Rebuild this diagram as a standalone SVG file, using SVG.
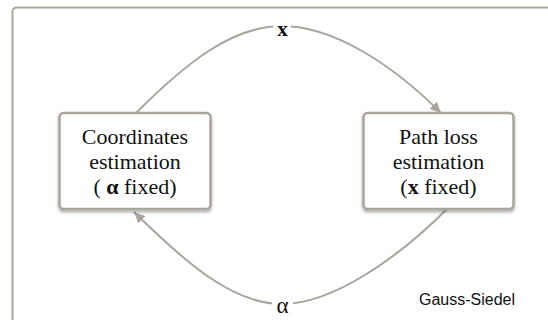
<svg xmlns="http://www.w3.org/2000/svg" width="548" height="320" viewBox="0 0 548 320">
<style>
.frame{fill:none;stroke:#aaa59d;stroke-width:2}
.box{fill:#fff;stroke:#a9a49c;stroke-width:2.5}
.edge{fill:none;stroke:#a9a49c;stroke-width:2}
.t{font-family:'Liberation Serif','DejaVu Serif',serif;font-size:22px;fill:#111;text-anchor:middle}
.lbl{font-family:'Liberation Serif','DejaVu Serif',serif;fill:#111;text-anchor:middle}
.note{font-family:'Liberation Sans',Arial,sans-serif;font-size:16px;fill:#111}
</style>
<defs>
<filter id="sh" x="-10%" y="-10%" width="125%" height="130%">
<feDropShadow dx="0" dy="2" stdDeviation="1.8" flood-color="#000" flood-opacity="0.35"/>
</filter>
<marker id="ah" markerUnits="userSpaceOnUse" markerWidth="12" markerHeight="10" viewBox="0 0 12 10" refX="11" refY="5" orient="auto">
<path d="M0,0 L11,5 L0,10 z" fill="#a9a49c"/>
</marker>
</defs>
<rect width="548" height="320" fill="#fff"/>
<rect class="frame" x="12.5" y="7.5" width="600" height="400" rx="4"/>
<g id="connectors">
<path id="edge-x" class="edge" d="M136,113 C186,63 232,26 282,26 C332,26 391,63 441,113" marker-end="url(#ah)"/>
<path id="edge-alpha" class="edge" d="M447,209 C397,259 332,304 282,304 C232,304 185,262 134,212" marker-end="url(#ah)"/>
<rect x="273" y="16" width="18" height="20" fill="#fff"/>
<rect x="272" y="294" width="21" height="22" fill="#fff"/>
<text class="lbl" x="282.5" y="36" font-size="21" font-weight="bold" font-family="Liberation Serif, DejaVu Serif, serif">x</text>
<text class="lbl" x="282.5" y="313" font-size="23" font-family="Liberation Serif, DejaVu Serif, serif">α</text>
</g>
<g id="coords">
<rect class="box" x="59.5" y="113" width="151" height="96" rx="4" filter="url(#sh)"/>
<text class="t" x="135" y="144" font-family="Liberation Serif, DejaVu Serif, serif">Coordinates</text>
<text class="t" x="135" y="169" font-family="Liberation Serif, DejaVu Serif, serif">estimation</text>
<text class="t" x="135" y="194" font-family="Liberation Serif, DejaVu Serif, serif">( <tspan font-weight="bold">α</tspan> fixed)</text>
</g>
<g id="pathloss">
<rect class="box" x="363.5" y="113" width="150" height="96" rx="4" filter="url(#sh)"/>
<text class="t" x="438.5" y="144" font-family="Liberation Serif, DejaVu Serif, serif">Path loss</text>
<text class="t" x="438.5" y="169" font-family="Liberation Serif, DejaVu Serif, serif">estimation</text>
<text class="t" x="438.5" y="194" font-family="Liberation Serif, DejaVu Serif, serif">(<tspan font-weight="bold">x</tspan> fixed)</text>
</g>
<text class="note" x="419" y="305">Gauss-Siedel</text>
</svg>
